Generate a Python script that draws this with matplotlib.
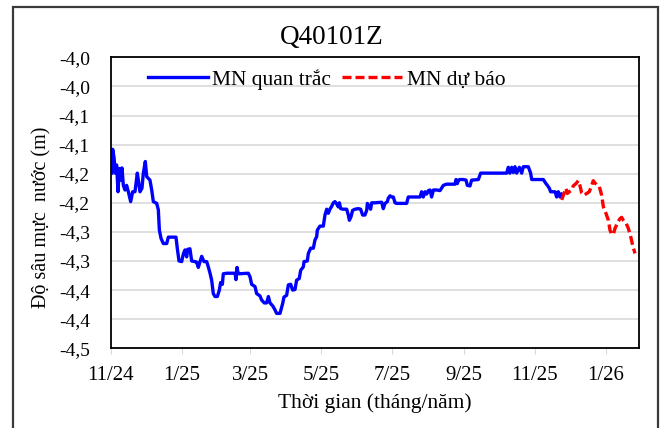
import matplotlib
matplotlib.use('Agg')
import matplotlib.pyplot as plt
from matplotlib.patches import Rectangle
import datetime as dt

start = dt.datetime(2024, 11, 1)

# observed water level (days since 2024-11-01, metres)
obs_days = [1, 1.7, 2.8, 4.0, 5.1, 6.3, 7.4, 8.6, 9.7, 10.9, 12.3, 13.7, 15.2, 17.2, 18.9,
            20.9, 22.9, 23.8, 25.2, 26.9, 28.1, 29.8, 31.0, 32.4, 33.8, 35.3, 36.7, 39.6,
            41.0, 41.9, 43.3, 45.3, 48.2, 49.6, 56.2, 57.3, 58.8, 61.1, 62.5, 63.9, 65.4,
            66.2, 68.2, 69.7, 72.5, 74.0, 75.4, 76.9, 78.3, 80.3, 82.6, 84.0, 85.5, 86.9,
            88.3, 89.8, 91.8, 93.5, 94.6, 96.1, 96.9, 99.8, 107.0, 107.8, 108.7, 109.8,
            118.4, 119.9, 121.3, 124.2, 125.6, 128.5, 129.9, 132.2, 134.2, 135.7, 137.1,
            139.4, 141.4, 142.8, 145.7, 148.0, 149.1, 151.4, 152.9, 154.9, 156.6, 158.6,
            160.0, 162.3, 163.5, 165.8, 166.4, 169.2, 170.1, 172.1, 174.4, 175.8, 177.3,
            177.8, 180.1, 183.0, 184.4, 185.9, 187.3, 188.7, 190.2, 191.6, 193.0, 194.5,
            195.9, 196.8, 197.9, 200.2, 203.1, 204.5, 205.4, 206.8, 208.2, 210.2, 213.1,
            215.1, 216.8, 218.8, 220.3, 220.9, 222.6, 223.7, 224.6, 227.5, 233.2, 234.6,
            236.1, 238.1, 238.9, 240.4, 241.8, 243.2, 244.7, 246.1, 254.7, 256.1, 263.3,
            266.2, 267.6, 269.0, 270.5, 271.9, 273.4, 274.8, 276.2, 277.7, 280.5, 283.4,
            286.3, 289.1, 296.3, 297.2, 298.3, 299.2, 300.6, 303.5, 305.8, 306.9, 309.2,
            310.6, 316.4, 318.4, 340.8, 342.2, 343.6, 345.1, 346.5, 347.9, 349.4, 351.7,
            353.7, 355.1, 359.4, 361.4, 362.3, 365.1, 372.3, 374.6, 375.8, 377.5, 378.6,
            382.4, 383.8, 385.2, 386.7, 388.1]
obs_vals = [-4.199, -4.158, -4.171, -4.199, -4.185, -4.231, -4.191, -4.211, -4.190, -4.220,
            -4.228, -4.220, -4.231, -4.248, -4.231, -4.231, -4.199, -4.211, -4.231, -4.225,
            -4.199, -4.179, -4.205, -4.208, -4.211, -4.228, -4.248, -4.251, -4.262, -4.297,
            -4.311, -4.320, -4.320, -4.309, -4.309, -4.328, -4.350, -4.351, -4.338, -4.331,
            -4.343, -4.330, -4.329, -4.350, -4.351, -4.352, -4.361, -4.351, -4.342, -4.351,
            -4.351, -4.360, -4.371, -4.383, -4.406, -4.411, -4.411, -4.400, -4.387, -4.390,
            -4.372, -4.371, -4.371, -4.382, -4.361, -4.372, -4.371, -4.377, -4.390, -4.394,
            -4.406, -4.410, -4.417, -4.422, -4.422, -4.411, -4.422, -4.427, -4.434, -4.440,
            -4.440, -4.423, -4.412, -4.409, -4.391, -4.390, -4.400, -4.399, -4.383, -4.380,
            -4.366, -4.360, -4.351, -4.350, -4.337, -4.328, -4.328, -4.314, -4.308, -4.297,
            -4.290, -4.290, -4.271, -4.261, -4.268, -4.261, -4.256, -4.250, -4.248, -4.252,
            -4.257, -4.250, -4.260, -4.261, -4.261, -4.271, -4.280, -4.274, -4.263, -4.261,
            -4.260, -4.261, -4.271, -4.271, -4.263, -4.251, -4.257, -4.261, -4.250, -4.250,
            -4.249, -4.260, -4.251, -4.248, -4.242, -4.238, -4.240, -4.240, -4.250, -4.251,
            -4.251, -4.240, -4.240, -4.240, -4.231, -4.240, -4.231, -4.235, -4.229, -4.228,
            -4.240, -4.228, -4.228, -4.229, -4.220, -4.218, -4.218, -4.210, -4.217, -4.211,
            -4.210, -4.210, -4.211, -4.220, -4.221, -4.211, -4.210, -4.199, -4.199, -4.189,
            -4.199, -4.189, -4.198, -4.188, -4.199, -4.189, -4.199, -4.188, -4.188, -4.199,
            -4.210, -4.210, -4.210, -4.217, -4.220, -4.225, -4.231, -4.231, -4.240, -4.231,
            -4.240, -4.235]

# forecast water level
fc_days = [388.1, 390.1, 391.8, 393.0, 394.7, 396.7, 398.1, 400.4, 402.4, 403.9, 405.3,
           407.3, 409.6, 411.9, 413.9, 415.3, 416.8, 418.8, 420.5, 422.5, 424.0, 426.2,
           428.3, 429.7, 431.1, 432.6, 434.0, 436.0, 438.3, 439.7, 441.2, 443.5, 445.5,
           447.5, 449.2, 451.2]
fc_vals = [-4.245, -4.234, -4.225, -4.234, -4.231, -4.228, -4.221, -4.217, -4.212, -4.221,
           -4.233, -4.237, -4.234, -4.231, -4.220, -4.212, -4.216, -4.220, -4.222, -4.237,
           -4.257, -4.268, -4.280, -4.297, -4.304, -4.304, -4.294, -4.285, -4.277, -4.275,
           -4.280, -4.285, -4.294, -4.308, -4.323, -4.337]

tick_dates = ['2024-11-01', '2025-01-01', '2025-03-01', '2025-05-01', '2025-07-01',
              '2025-09-01', '2025-11-01', '2026-01-01']
tick_labels = ['11/24', '1/25', '3/25', '5/25', '7/25', '9/25', '11/25', '1/26']
y_ticks = [-4.5, -4.45, -4.4, -4.35, -4.3, -4.25, -4.2, -4.15, -4.1, -4.05, -4.0]
y_labels = ['-4,5', '-4,4', '-4,4', '-4,3', '-4,3', '-4,2', '-4,2', '-4,1', '-4,1',
            '-4,0', '-4,0']

plt.rcParams['font.family'] = ['Liberation Serif', 'DejaVu Serif']

obs_t = [start + dt.timedelta(days=d) for d in obs_days]
fc_t = [start + dt.timedelta(days=d) for d in fc_days]

fig = plt.figure(figsize=(6.64, 4.28), dpi=100)
ax = fig.add_axes([0.1667, 0.1862, 0.7952, 0.6799])

# outer chart frame
fig.patches.append(Rectangle((12.7 / 664, -0.05), (658 - 12.7) / 664, 1.05 - 7.3 / 428,
                             transform=fig.transFigure, fill=False,
                             edgecolor='#3a3a3a', linewidth=1.6))

ax.plot(obs_t, obs_vals, color='#0000ff', linewidth=2.4, label='MN quan trắc',
        solid_joinstyle='round')
ax.plot(fc_t, fc_vals, color='#ff0000', linewidth=2.4, linestyle=(0, (2.7, 1.2)),
        label='MN dự báo')

ax.set_xlim(start, start + dt.timedelta(days=454.4))
ax.set_ylim(-4.5, -4.0)
ax.set_yticks(y_ticks)
ax.set_yticklabels(y_labels)
ax.set_xticks([dt.datetime.strptime(s, '%Y-%m-%d') for s in tick_dates])
ax.set_xticklabels(tick_labels)

ax.grid(True, axis='y', color='#d9d9d9', linewidth=1.2)
ax.set_axisbelow(True)
for s in ax.spines.values():
    s.set_color('black')
    s.set_linewidth(1.3)
ax.tick_params(axis='y', length=0, labelsize=14, pad=15)
ax.tick_params(axis='x', length=4, color='#d9d9d9', labelsize=15, pad=9)

fig.text(0.5, 1 - 38 / 428, 'Q40101Z', fontsize=19.5, ha='center', va='center')
ax.set_xlabel('Thời gian (tháng/năm)', fontsize=15.5, labelpad=6)
ax.set_ylabel('Độ sâu mực  nước (m)', fontsize=14.5)
ax.yaxis.set_label_coords(-0.112, 0.45)

ax.legend(loc='upper left', bbox_to_anchor=(0.05, 0.995), ncol=2, frameon=False,
          fontsize=15.5, handlelength=2.8, handletextpad=0.2, columnspacing=0.5,
          borderaxespad=0.1)

fig.savefig('out.png', dpi=100)
